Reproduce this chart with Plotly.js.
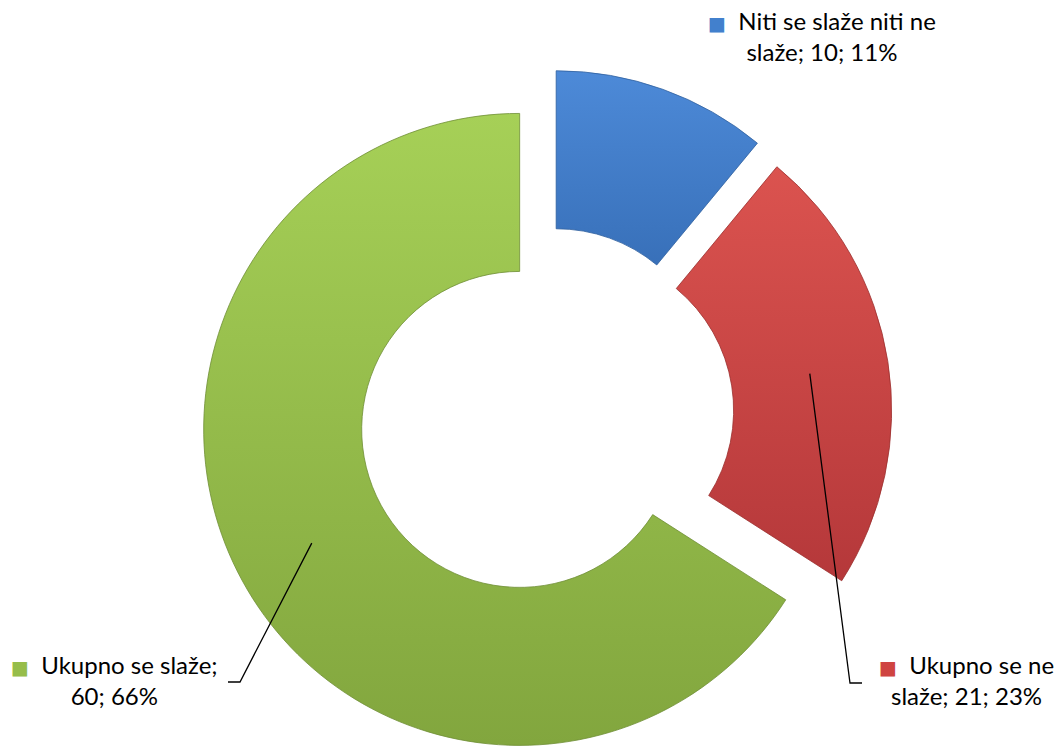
<!DOCTYPE html>
<html><head><meta charset="utf-8">
<script src="https://cdn.plot.ly/plotly-3.0.1.min.js"></script>
<style>html,body{margin:0;padding:0;overflow:hidden;background:#fff}</style>
</head><body><div id="chart" style="width:1064px;height:830px"></div>
<script>
// ---- data ----
const categories = ["Niti se slaže niti ne slaže", "Ukupno se ne slaže", "Ukupno se slaže"];
const values = [10, 21, 60];
const labelFirstLine = ["Niti se slaže niti ne", "Ukupno se ne", "Ukupno se slaže;"];
const labelSecondLine = ["slaže;", "slaže;", ""];
const colors = ["#4280cd", "#cf4441", "#96bd4a"];
const gradTop = ["#4d8ad8", "#db534f", "#a6d057"];
const gradBottom = ["#3870b9", "#b5383a", "#82a63e"];
const edgeColors = ["#2f5f9e", "#9a2f2d", "#6f8e35"];

// ---- layout geometry ----
const W = 1064, H = 830;
const boxL = 200, boxR = 892, boxT = 69, boxB = 761;
const pull = 0.095, hole = 0.5;

const total = values.reduce((a, b) => a + b, 0);
const pct = values.map(v => Math.round(v / total * 100));
const labels = values.map((v, i) =>
  `<span style="color:${colors[i]};font-size:19px;font-family:'DejaVu Sans'">■</span>  ${labelFirstLine[i]}<br>${labelSecondLine[i] ? labelSecondLine[i] + " " : ""}${v}; ${pct[i]}%`);

const cx = (boxL + boxR) / 2, cy = (boxT + boxB) / 2;
const R = Math.min(boxR - boxL, boxB - boxT) / 2 / (1 + pull);
const px2x = x => x / W, px2y = y => 1 - y / H;

// mid angles (clockwise from 12 o'clock)
let cum = 0;
const mids = values.map(v => { const a0 = cum; cum += v; return (a0 + v / 2) / total * 2 * Math.PI; });
const startPt = i => {
  const a = mids[i];
  const dx = Math.sin(a), dy = -Math.cos(a);
  const pcx = cx + pull * R * dx, pcy = cy + pull * R * dy;
  const rm = R * (1 + hole) / 2;
  return [pcx + rm * dx, pcy + rm * dy];
};

// label positions (pixels) and leader elbows
const labelPos = [[822, 36], [966, 680], [114, 680]];
const elbows = [null, [[850, 683], [862, 683]], [[240, 682], [228, 682]]];

const shapes = [];
elbows.forEach((e, i) => {
  if (!e) return;
  const s = startPt(i);
  const pts = [s].concat(e);
  const path = pts.map((p, k) => (k ? "L" : "M") + px2x(p[0]) + "," + px2y(p[1])).join(" ");
  shapes.push({type: "path", xref: "paper", yref: "paper", path: path,
    line: {color: "#000", width: 1.3}});
});

const annotations = labels.map((t, i) => ({
  text: t, xref: "paper", yref: "paper",
  x: px2x(labelPos[i][0]), y: px2y(labelPos[i][1]),
  xanchor: "center", yanchor: "middle", showarrow: false, align: "center",
  font: {family: "Lato, 'Open Sans', sans-serif", size: 24, color: "#000"}
}));

const trace = {
  type: "pie", labels: categories, values: values, hole: hole,
  sort: false, direction: "clockwise", rotation: 0,
  pull: values.map(() => pull),
  textinfo: "none", hoverinfo: "label+value+percent",
  marker: {colors: colors, line: {color: edgeColors, width: 0.8}},
  domain: {x: [boxL / W, boxR / W], y: [1 - boxB / H, 1 - boxT / H]},
  showlegend: false
};

Plotly.newPlot("chart", [trace], {
  width: W, height: H, margin: {l: 0, r: 0, t: 0, b: 0},
  paper_bgcolor: "#fff", showlegend: false,
  shapes: shapes, annotations: annotations
}, {displayModeBar: false, staticPlot: true}).then(gd => {
  const svg = gd.querySelector("svg.main-svg");
  const ns = "http://www.w3.org/2000/svg";
  let defs = svg.querySelector("defs");
  if (!defs) { defs = document.createElementNS(ns, "defs"); svg.insertBefore(defs, svg.firstChild); }
  colors.forEach((c, i) => {
    const g = document.createElementNS(ns, "linearGradient");
    g.setAttribute("id", "sliceGrad" + i);
    g.setAttribute("x1", "0"); g.setAttribute("y1", "0");
    g.setAttribute("x2", "0"); g.setAttribute("y2", "1");
    [[0, gradTop[i]], [1, gradBottom[i]]].forEach(([o, col]) => {
      const st = document.createElementNS(ns, "stop");
      st.setAttribute("offset", o); st.setAttribute("stop-color", col);
      g.appendChild(st);
    });
    defs.appendChild(g);
  });
  gd.querySelectorAll("g.slice path.surface").forEach((p, i) => {
    p.style.fill = "url(#sliceGrad" + i + ")";
  });
});
</script>
</body></html>
